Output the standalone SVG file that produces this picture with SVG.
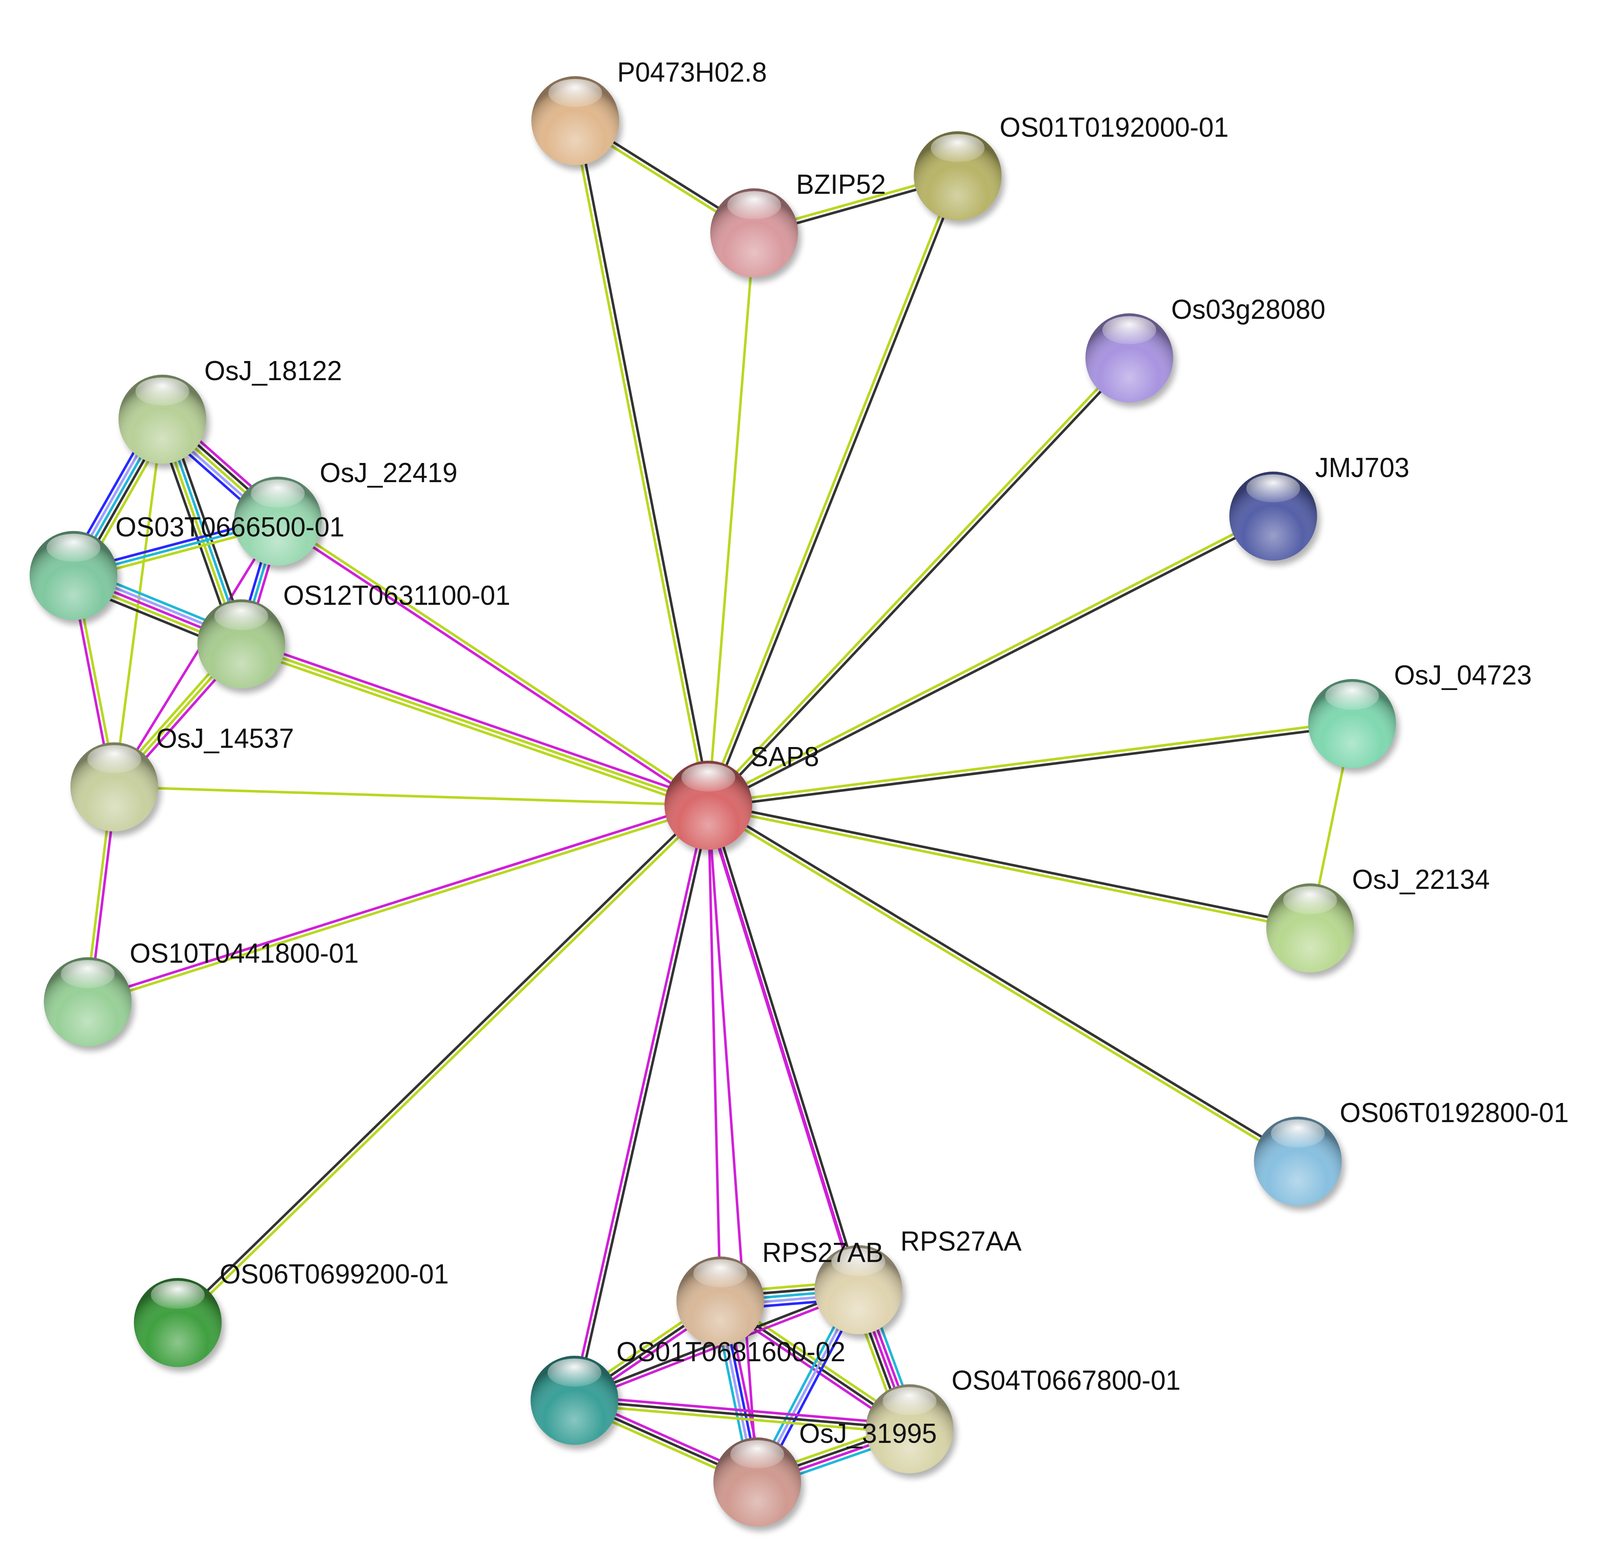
<svg xmlns="http://www.w3.org/2000/svg" width="4144" height="4003" viewBox="0 0 4144 4003">
<style>
line{stroke-width:6.5;fill:none}
.y{stroke:#b8d820}.k{stroke:#333}.m{stroke:#d020d8}.c{stroke:#20b8d8}.b{stroke:#2828ff}.l{stroke:#a0a0ff}
text{font-family:"Liberation Sans",Arial,sans-serif;font-size:70px;fill:#111}
.sh{fill:#000;opacity:.3;filter:url(#blur)}
.sd{fill:url(#shade)}
.hl{fill:url(#hl)}
</style>
<defs>
<filter id="blur" x="-50%" y="-50%" width="200%" height="200%"><feGaussianBlur stdDeviation="8"/></filter>
<radialGradient id="shade" cx="50%" cy="72%" r="62%">
<stop offset="0" stop-color="#fff" stop-opacity=".4"/>
<stop offset=".55" stop-color="#fff" stop-opacity="0"/>
<stop offset=".9" stop-color="#000" stop-opacity=".2"/>
<stop offset="1" stop-color="#000" stop-opacity=".4"/>
</radialGradient>
<radialGradient id="hl" cx="50%" cy="30%" r="70%">
<stop offset="0" stop-color="#fff" stop-opacity=".95"/>
<stop offset="1" stop-color="#fff" stop-opacity=".15"/>
</radialGradient>
</defs>
<rect width="4144" height="4003" fill="#fff"/>
<g transform="scale(0.985,1)">
<g id="edges">
<g transform="translate(1841,2061) rotate(-101.17)"><line x2="1786" y1="-5.5" y2="-5.5" class="y"/><line x2="1786" y1="5.5" y2="5.5" class="k"/></g>
<g transform="translate(1841,2061) rotate(-85.36)"><line x2="1470" class="y"/></g>
<g transform="translate(1841,2061) rotate(-68.09)"><line x2="1736" y1="-5.5" y2="-5.5" class="y"/><line x2="1736" y1="5.5" y2="5.5" class="k"/></g>
<g transform="translate(1841,2061) rotate(-46.30)"><line x2="1584" y1="-5.5" y2="-5.5" class="y"/><line x2="1584" y1="5.5" y2="5.5" class="k"/></g>
<g transform="translate(1841,2061) rotate(-26.75)"><line x2="1644" y1="-5.5" y2="-5.5" class="y"/><line x2="1644" y1="5.5" y2="5.5" class="k"/></g>
<g transform="translate(1841,2061) rotate(-7.12)"><line x2="1686" y1="-5.5" y2="-5.5" class="y"/><line x2="1686" y1="5.5" y2="5.5" class="k"/></g>
<g transform="translate(1841,2061) rotate(11.35)"><line x2="1595" y1="-5.5" y2="-5.5" class="k"/><line x2="1595" y1="5.5" y2="5.5" class="y"/></g>
<g transform="translate(1841,2061) rotate(30.74)"><line x2="1782" y1="-5.5" y2="-5.5" class="k"/><line x2="1782" y1="5.5" y2="5.5" class="y"/></g>
<g transform="translate(1841,2061) rotate(136.17)"><line x2="1912" y1="-5.5" y2="-5.5" class="y"/><line x2="1912" y1="5.5" y2="5.5" class="k"/></g>
<g transform="translate(1841,2061) rotate(162.68)"><line x2="1690" y1="-5.5" y2="-5.5" class="y"/><line x2="1690" y1="5.5" y2="5.5" class="m"/></g>
<g transform="translate(1841,2061) rotate(-178.26)"><line x2="1545" class="y"/></g>
<g transform="translate(1841,2061) rotate(-161.21)"><line x2="1282" y1="-11" y2="-11" class="y"/><line x2="1282" class="y"/><line x2="1282" y1="11" y2="11" class="m"/></g>
<g transform="translate(1841,2061) rotate(-147.0)"><line x2="1334" y1="-5.5" y2="-5.5" class="m"/><line x2="1334" y1="5.5" y2="5.5" class="y"/></g>
<g transform="translate(1841,2061) rotate(88.60)"><line x2="1269" class="m"/></g>
<g transform="translate(1841,2061) rotate(85.81)"><line x2="1737" class="m"/></g>
<g transform="translate(1841,2061) rotate(72.54)"><line x2="1300" y1="-5.5" y2="-5.5" class="k"/><line x2="1300" y1="5.5" y2="5.5" class="m" style="stroke-width:9"/></g>
<g transform="translate(1841,2061) rotate(102.87)"><line x2="1562" y1="-5.5" y2="-5.5" class="k"/><line x2="1562" y1="5.5" y2="5.5" class="m"/></g>
<g transform="translate(1495,309) rotate(31.68)"><line x2="546" y1="-5.5" y2="-5.5" class="k"/><line x2="546" y1="5.5" y2="5.5" class="y"/></g>
<g transform="translate(1960,596) rotate(-15.43)"><line x2="549" y1="-5.5" y2="-5.5" class="y"/><line x2="549" y1="5.5" y2="5.5" class="k"/></g>
<g transform="translate(3514,1852) rotate(101.77)"><line x2="534" class="y"/></g>
<g transform="translate(297,2014) rotate(97.15)"><line x2="554" y1="-5.5" y2="-5.5" class="m"/><line x2="554" y1="5.5" y2="5.5" class="y"/></g>
<g transform="translate(191,1473) rotate(78.91)"><line x2="551" y1="-5.5" y2="-5.5" class="y"/><line x2="551" y1="5.5" y2="5.5" class="m"/></g>
<g transform="translate(422,1073) rotate(97.57)"><line x2="949" class="y"/></g>
<g transform="translate(627,1648) rotate(132.04)"><line x2="493" y1="-11" y2="-11" class="m"/><line x2="493" class="y"/><line x2="493" y1="11" y2="11" class="y"/></g>
<g transform="translate(722,1334) rotate(122.0)"><line x2="802" class="m"/></g>
<g transform="translate(422,1073) rotate(41.02)"><line x2="398" y1="-22" y2="-22" class="m"/><line x2="398" y1="-11" y2="-11" class="k"/><line x2="398" class="y"/><line x2="398" y1="11" y2="11" class="l"/><line x2="398" y1="22" y2="22" class="b"/></g>
<g transform="translate(422,1073) rotate(120.0)"><line x2="462" y1="-22" y2="-22" class="y"/><line x2="462" y1="-11" y2="-11" class="k"/><line x2="462" class="c"/><line x2="462" y1="11" y2="11" class="l"/><line x2="462" y1="22" y2="22" class="b"/></g>
<g transform="translate(422,1073) rotate(70.38)"><line x2="610" y1="-16.5" y2="-16.5" class="k"/><line x2="610" y1="-5.5" y2="-5.5" class="c"/><line x2="610" y1="5.5" y2="5.5" class="y"/><line x2="610" y1="16.5" y2="16.5" class="k"/></g>
<g transform="translate(722,1334) rotate(165.33)"><line x2="549" y1="-11" y2="-11" class="y"/><line x2="549" class="c"/><line x2="549" y1="11" y2="11" class="b"/></g>
<g transform="translate(722,1334) rotate(106.83)"><line x2="328" y1="-11" y2="-11" class="m"/><line x2="328" class="c"/><line x2="328" y1="11" y2="11" class="b"/></g>
<g transform="translate(191,1473) rotate(21.87)"><line x2="470" y1="-22" y2="-22" class="c"/><line x2="470" y1="-11" y2="-11" class="l"/><line x2="470" class="m"/><line x2="470" y1="11" y2="11" class="y"/><line x2="470" y1="22" y2="22" class="k"/></g>
<g transform="translate(1872,3330) rotate(-4.62)"><line x2="360" y1="-22" y2="-22" class="y"/><line x2="360" y1="-11" y2="-11" class="k"/><line x2="360" class="c"/><line x2="360" y1="11" y2="11" class="l"/><line x2="360" y1="22" y2="22" class="b"/></g>
<g transform="translate(1872,3330) rotate(146.17)"><line x2="456" y1="-11" y2="-11" class="m"/><line x2="456" class="k"/><line x2="456" y1="11" y2="11" class="y"/></g>
<g transform="translate(1872,3330) rotate(33.61)"><line x2="591" y1="-11" y2="-11" class="y"/><line x2="591" class="k"/><line x2="591" y1="11" y2="11" class="m"/></g>
<g transform="translate(1872,3330) rotate(78.29)"><line x2="473" y1="-16.5" y2="-16.5" class="m"/><line x2="473" y1="-5.5" y2="-5.5" class="b"/><line x2="473" y1="5.5" y2="5.5" class="l"/><line x2="473" y1="16.5" y2="16.5" class="c"/></g>
<g transform="translate(2231,3301) rotate(159.0)"><line x2="790" y1="-5.5" y2="-5.5" class="m"/><line x2="790" y1="5.5" y2="5.5" class="k"/></g>
<g transform="translate(2231,3301) rotate(69.51)"><line x2="380" y1="-22" y2="-22" class="c"/><line x2="380" y1="-11" y2="-11" class="m"/><line x2="380" class="m"/><line x2="380" y1="11" y2="11" class="k"/><line x2="380" y1="22" y2="22" class="y"/></g>
<g transform="translate(2231,3301) rotate(118.12)"><line x2="558" y1="-11" y2="-11" class="b"/><line x2="558" class="l"/><line x2="558" y1="11" y2="11" class="c"/></g>
<g transform="translate(1493,3584) rotate(4.79)"><line x2="874" y1="-11" y2="-11" class="m"/><line x2="874" class="k"/><line x2="874" y1="11" y2="11" class="y"/></g>
<g transform="translate(1493,3584) rotate(23.75)"><line x2="519" y1="-11" y2="-11" class="m"/><line x2="519" class="k"/><line x2="519" y1="11" y2="11" class="y"/></g>
<g transform="translate(1968,3793) rotate(-18.95)"><line x2="419" y1="-16.5" y2="-16.5" class="y"/><line x2="419" y1="-5.5" y2="-5.5" class="k"/><line x2="419" y1="5.5" y2="5.5" class="m"/><line x2="419" y1="16.5" y2="16.5" class="c"/></g>
</g>
<g id="n-SAP8"><circle cx="1849" cy="2073" r="114" class="sh"/><circle cx="1841" cy="2061" r="114" fill="#d9696b"/><circle cx="1841" cy="2061" r="114" class="sd"/><ellipse cx="1841" cy="1990" rx="70" ry="36" class="hl"/><text x="1950" y="1961">SAP8</text></g>
<g id="n-P0473H02.8"><circle cx="1503" cy="321" r="114" class="sh"/><circle cx="1495" cy="309" r="114" fill="#e0b88e"/><circle cx="1495" cy="309" r="114" class="sd"/><ellipse cx="1495" cy="238" rx="70" ry="36" class="hl"/><text x="1604" y="209">P0473H02.8</text></g>
<g id="n-BZIP52"><circle cx="1968" cy="608" r="114" class="sh"/><circle cx="1960" cy="596" r="114" fill="#d99a9e"/><circle cx="1960" cy="596" r="114" class="sd"/><ellipse cx="1960" cy="525" rx="70" ry="36" class="hl"/><text x="2069" y="496">BZIP52</text></g>
<g id="n-OS01T0192000-01"><circle cx="2497" cy="462" r="114" class="sh"/><circle cx="2489" cy="450" r="114" fill="#b8b468"/><circle cx="2489" cy="450" r="114" class="sd"/><ellipse cx="2489" cy="379" rx="70" ry="36" class="hl"/><text x="2598" y="350">OS01T0192000-01</text></g>
<g id="n-Os03g28080"><circle cx="2943" cy="928" r="114" class="sh"/><circle cx="2935" cy="916" r="114" fill="#a894e0"/><circle cx="2935" cy="916" r="114" class="sd"/><ellipse cx="2935" cy="845" rx="70" ry="36" class="hl"/><text x="3044" y="816">Os03g28080</text></g>
<g id="n-JMJ703"><circle cx="3317" cy="1333" r="114" class="sh"/><circle cx="3309" cy="1321" r="114" fill="#5560a8"/><circle cx="3309" cy="1321" r="114" class="sd"/><ellipse cx="3309" cy="1250" rx="70" ry="36" class="hl"/><text x="3418" y="1221">JMJ703</text></g>
<g id="n-OsJ_04723"><circle cx="3522" cy="1864" r="114" class="sh"/><circle cx="3514" cy="1852" r="114" fill="#80d8b0"/><circle cx="3514" cy="1852" r="114" class="sd"/><ellipse cx="3514" cy="1781" rx="70" ry="36" class="hl"/><text x="3623" y="1752">OsJ_04723</text></g>
<g id="n-OsJ_22134"><circle cx="3413" cy="2387" r="114" class="sh"/><circle cx="3405" cy="2375" r="114" fill="#b8d890"/><circle cx="3405" cy="2375" r="114" class="sd"/><ellipse cx="3405" cy="2304" rx="70" ry="36" class="hl"/><text x="3514" y="2275">OsJ_22134</text></g>
<g id="n-OS06T0192800-01"><circle cx="3381" cy="2984" r="114" class="sh"/><circle cx="3373" cy="2972" r="114" fill="#88c0e0"/><circle cx="3373" cy="2972" r="114" class="sd"/><ellipse cx="3373" cy="2901" rx="70" ry="36" class="hl"/><text x="3482" y="2872">OS06T0192800-01</text></g>
<g id="n-OS06T0699200-01"><circle cx="470" cy="3397" r="114" class="sh"/><circle cx="462" cy="3385" r="114" fill="#40a040"/><circle cx="462" cy="3385" r="114" class="sd"/><ellipse cx="462" cy="3314" rx="70" ry="36" class="hl"/><text x="571" y="3285">OS06T0699200-01</text></g>
<g id="n-OS10T0441800-01"><circle cx="236" cy="2576" r="114" class="sh"/><circle cx="228" cy="2564" r="114" fill="#98d098"/><circle cx="228" cy="2564" r="114" class="sd"/><ellipse cx="228" cy="2493" rx="70" ry="36" class="hl"/><text x="337" y="2464">OS10T0441800-01</text></g>
<g id="n-OsJ_14537"><circle cx="305" cy="2026" r="114" class="sh"/><circle cx="297" cy="2014" r="114" fill="#c8d0a0"/><circle cx="297" cy="2014" r="114" class="sd"/><ellipse cx="297" cy="1943" rx="70" ry="36" class="hl"/><text x="406" y="1914">OsJ_14537</text></g>
<g id="n-OsJ_18122"><circle cx="430" cy="1085" r="114" class="sh"/><circle cx="422" cy="1073" r="114" fill="#b8d098"/><circle cx="422" cy="1073" r="114" class="sd"/><ellipse cx="422" cy="1002" rx="70" ry="36" class="hl"/><text x="531" y="973">OsJ_18122</text></g>
<g id="n-OsJ_22419"><circle cx="730" cy="1346" r="114" class="sh"/><circle cx="722" cy="1334" r="114" fill="#98d8b0"/><circle cx="722" cy="1334" r="114" class="sd"/><ellipse cx="722" cy="1263" rx="70" ry="36" class="hl"/><text x="831" y="1234">OsJ_22419</text></g>
<g id="n-OS03T0666500-01"><circle cx="199" cy="1485" r="114" class="sh"/><circle cx="191" cy="1473" r="114" fill="#80c8a0"/><circle cx="191" cy="1473" r="114" class="sd"/><ellipse cx="191" cy="1402" rx="70" ry="36" class="hl"/><text x="300" y="1373">OS03T0666500-01</text></g>
<g id="n-OS12T0631100-01"><circle cx="635" cy="1660" r="114" class="sh"/><circle cx="627" cy="1648" r="114" fill="#a8cc90"/><circle cx="627" cy="1648" r="114" class="sd"/><ellipse cx="627" cy="1577" rx="70" ry="36" class="hl"/><text x="736" y="1548">OS12T0631100-01</text></g>
<g id="n-OS01T0681600-02"><circle cx="1501" cy="3596" r="114" class="sh"/><circle cx="1493" cy="3584" r="114" fill="#3aa098"/><circle cx="1493" cy="3584" r="114" class="sd"/><ellipse cx="1493" cy="3513" rx="70" ry="36" class="hl"/></g>
<g id="n-OsJ_31995"><circle cx="1976" cy="3805" r="114" class="sh"/><circle cx="1968" cy="3793" r="114" fill="#d09a90"/><circle cx="1968" cy="3793" r="114" class="sd"/><ellipse cx="1968" cy="3722" rx="70" ry="36" class="hl"/></g>
<g id="n-OS04T0667800-01"><circle cx="2372" cy="3669" r="114" class="sh"/><circle cx="2364" cy="3657" r="114" fill="#d8d4a8"/><circle cx="2364" cy="3657" r="114" class="sd"/><ellipse cx="2364" cy="3586" rx="70" ry="36" class="hl"/><text x="2473" y="3557">OS04T0667800-01</text></g>
<g id="n-RPS27AB"><circle cx="1880" cy="3342" r="114" class="sh"/><circle cx="1872" cy="3330" r="114" fill="#d8b898"/><circle cx="1872" cy="3330" r="114" class="sd"/><ellipse cx="1872" cy="3259" rx="70" ry="36" class="hl"/></g>
<g id="n-RPS27AA"><circle cx="2239" cy="3313" r="114" class="sh"/><circle cx="2231" cy="3301" r="114" fill="#e0d4b0"/><circle cx="2231" cy="3301" r="114" class="sd"/><ellipse cx="2231" cy="3230" rx="70" ry="36" class="hl"/><text x="2340" y="3201">RPS27AA</text></g>
<g id="labels-bottom"><text x="1981" y="3230">RPS27AB</text><text x="1602" y="3484">OS01T0681600-02</text><text x="2077" y="3693">OsJ_31995</text></g>
</g>
</svg>
